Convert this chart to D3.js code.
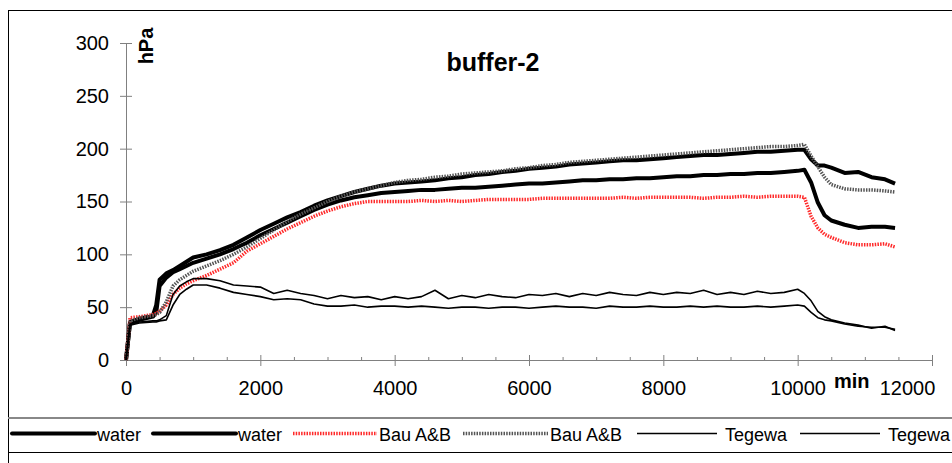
<!DOCTYPE html>
<html>
<head>
<meta charset="utf-8">
<script src="https://cdn.jsdelivr.net/npm/d3@7"></script>
<style>
  body { margin: 0; background: #fff; }
  svg { display: block; font-family: "Liberation Sans", Arial, sans-serif; }
</style>
</head>
<body>
<svg id="canvas"></svg>
<script>
// time axis (min) shared by all series
const times = [0, 60, 200, 400, 450, 500, 600, 700, 800, 900, 1000,
  1200, 1400, 1600, 1800, 2000, 2200, 2400, 2600, 2800, 3000,
  3200, 3400, 3600, 3800, 4000, 4200, 4400, 4600, 4800, 5000,
  5200, 5400, 5600, 5800, 6000, 6200, 6400, 6600, 6800, 7000,
  7200, 7400, 7600, 7800, 8000, 8200, 8400, 8600, 8800, 9000,
  9200, 9400, 9600, 9800, 10000, 10100, 10200, 10300, 10400, 10500,
  10700, 10900, 11100, 11300, 11450];

const water1 = [0, 36, 39, 42, 52, 76, 82, 85, 89, 93, 97,
  100, 104, 109, 116, 123, 129, 135, 140, 146, 151,
  155, 159, 162, 165, 167, 168, 169, 170, 172, 173,
  175, 176, 178, 179, 181, 182, 183, 185, 186, 187,
  188, 189, 189, 190, 191, 192, 193, 194, 194, 195,
  196, 197, 197, 198, 199, 199, 190, 184, 184, 182,
  177, 178, 173, 171, 167];

const water2 = [0, 35, 38, 41, 45, 70, 78, 83, 86, 89, 92,
  96, 100, 105, 111, 118, 124, 130, 136, 142, 147,
  151, 154, 156, 158, 159, 160, 161, 161, 162, 163,
  163, 164, 165, 166, 167, 167, 168, 169, 170, 170,
  171, 171, 172, 172, 173, 174, 174, 175, 175, 176,
  176, 177, 177, 178, 179, 180, 168, 149, 137, 132,
  128, 125, 126, 126, 125];

const bau1 = [0, 40, 41, 43, 44, 46, 52, 62, 68, 72, 75,
  80, 86, 92, 103, 110, 117, 124, 130, 136, 141,
  145, 148, 150, 150, 150, 150, 151, 150, 151, 150,
  151, 152, 152, 152, 152, 153, 153, 153, 153, 153,
  153, 154, 153, 154, 154, 154, 154, 153, 154, 154,
  155, 154, 155, 155, 155, 154, 136, 125, 119, 116,
  111, 109, 109, 110, 107];

const bau2 = [0, 37, 40, 42, 43, 45, 55, 70, 76, 80, 84,
  89, 94, 100, 107, 115, 123, 131, 138, 144, 150,
  155, 159, 162, 165, 168, 170, 171, 173, 174, 176,
  177, 178, 179, 181, 182, 184, 185, 187, 188, 189,
  190, 191, 192, 193, 194, 195, 196, 197, 198, 199,
  200, 201, 202, 202, 203, 204, 193, 183, 173, 166,
  162, 161, 161, 160, 159];

const tegewa1 = [0, 34, 36, 37, 37, 38, 42, 62, 70, 74, 77,
  77, 75, 71, 70, 69, 63, 66, 63, 61, 58,
  61, 59, 60, 57, 60, 58, 60, 66, 58, 61,
  59, 62, 60, 59, 62, 61, 63, 60, 63, 61,
  64, 62, 61, 64, 62, 64, 63, 66, 62, 64,
  62, 65, 63, 64, 67, 63, 56, 46, 41, 38,
  35, 33, 30, 32, 28];

const tegewa2 = [0, 33, 35, 36, 36, 37, 38, 52, 62, 67, 71,
  71, 68, 64, 62, 60, 57, 58, 57, 53, 51,
  51, 52, 50, 51, 51, 50, 51, 50, 49, 50,
  50, 49, 50, 50, 49, 50, 51, 50, 50, 49,
  51, 50, 50, 51, 50, 50, 51, 50, 51, 50,
  50, 51, 50, 51, 52, 51, 45, 40, 38, 37,
  34, 32, 31, 31, 29];

const xTicks = [0, 2000, 4000, 6000, 8000, 10000, 12000];
const yTicks = [0, 50, 100, 150, 200, 250, 300];
const legendNames = ["water", "water", "Bau A&B", "Bau A&B", "Tegewa", "Tegewa"];

const width = 952;
const height = 463;

const svg = d3.select("#canvas")
    .attr("width", width)
    .attr("height", height);

// outer frame
svg.append("rect")
    .attr("x", 8.5).attr("y", 10.5)
    .attr("width", 1000).attr("height", 1000)
    .attr("fill", "none")
    .attr("stroke", "#000")
    .attr("stroke-width", 1);

const xScale = d3.scaleLinear().domain([0, 12000]).range([126, 932]);
const yScale = d3.scaleLinear().domain([0, 300]).range([360, 43]);

const styles = [
    { color: "#000", w: 4, dash: null },
    { color: "#000", w: 4, dash: null },
    { color: "#ff2a2a", w: 3.5, dash: "1.5,1.2" },
    { color: "#555", w: 3.5, dash: "1.5,1.2" },
    { color: "#000", w: 1.6, dash: null },
    { color: "#000", w: 1.6, dash: null }
];
const seriesData = [water1, water2, bau1, bau2, tegewa1, tegewa2];

// axes
const xAxis = d3.axisBottom(xScale).tickValues(xTicks).tickSize(6).tickFormat(d3.format("d"));
const yAxis = d3.axisLeft(yScale).tickValues(yTicks).tickSize(6);

const gx = svg.append("g")
    .attr("transform", `translate(0, ${yScale(0)})`)
    .call(xAxis);
gx.select(".domain").attr("stroke", "#808080").attr("d", `M126,0.5H932`);
gx.selectAll(".tick line").attr("stroke", "#808080").attr("y1", -5);
gx.selectAll(".tick text")
    .attr("y", 35).attr("dy", 0)
    .attr("font-size", 20).attr("fill", "#000")
    .attr("font-family", "Liberation Sans, Arial, sans-serif");
gx.selectAll(".tick text").filter(d => d === 12000)
    .attr("dx", -25);

// minor x ticks
svg.append("g").selectAll("line")
    .data(d3.range(500, 12000, 500).filter(v => v % 2000 !== 0))
    .enter().append("line")
    .attr("x1", d => xScale(d) + 0.5).attr("x2", d => xScale(d) + 0.5)
    .attr("y1", yScale(0) - 3).attr("y2", yScale(0))
    .attr("stroke", "#808080");

const gy = svg.append("g")
    .attr("transform", `translate(${xScale(0)}, 0)`)
    .call(yAxis);
gy.select(".domain").attr("stroke", "#808080").attr("d", `M0.5,${yScale(300)}V${yScale(0)}`);
gy.selectAll(".tick line").attr("stroke", "#808080").attr("x2", 6).attr("x1", -6);
gy.selectAll(".tick text")
    .attr("x", -17)
    .attr("font-size", 20).attr("fill", "#000")
    .attr("font-family", "Liberation Sans, Arial, sans-serif");

// lines
const line = d3.line()
    .x((d, i) => xScale(times[i]))
    .y(d => yScale(d));

svg.append("g").selectAll("path")
    .data(seriesData)
    .enter().append("path")
    .attr("d", d => line(d))
    .attr("fill", "none")
    .attr("stroke", (d, i) => styles[i].color)
    .attr("stroke-width", (d, i) => styles[i].w)
    .attr("stroke-dasharray", (d, i) => styles[i].dash)
    .attr("stroke-linejoin", "round");

// titles
svg.append("text")
    .attr("x", 493).attr("y", 71)
    .attr("text-anchor", "middle")
    .attr("font-size", 25).attr("font-weight", "bold")
    .text("buffer-2");

svg.append("text")
    .attr("transform", "translate(153, 46) rotate(-90)")
    .attr("text-anchor", "middle")
    .attr("font-size", 20).attr("font-weight", "bold")
    .text("hPa");

svg.append("text")
    .attr("x", 834).attr("y", 388)
    .attr("font-size", 20).attr("font-weight", "bold")
    .text("min");

// legend box
svg.append("line")
    .attr("x1", 8).attr("x2", width)
    .attr("y1", 418).attr("y2", 418)
    .attr("stroke", "#888").attr("stroke-width", 2);
svg.append("line")
    .attr("x1", 8).attr("x2", width)
    .attr("y1", 452.5).attr("y2", 452.5)
    .attr("stroke", "#000").attr("stroke-width", 1);

const legendX = [12, 153, 293, 463, 637, 800];
const legendLen = [83, 83, 84, 85, 80, 80];

const leg = svg.append("g").selectAll("g")
    .data(legendNames)
    .enter().append("g");

leg.append("line")
    .attr("x1", (d, i) => legendX[i])
    .attr("x2", (d, i) => legendX[i] + legendLen[i])
    .attr("y1", 433.5).attr("y2", 433.5)
    .attr("stroke", (d, i) => styles[i].color)
    .attr("stroke-width", (d, i) => styles[i].w)
    .attr("stroke-dasharray", (d, i) => styles[i].dash)
    .attr("stroke-linecap", (d, i) => i < 2 ? "round" : "butt");

leg.append("text")
    .attr("x", (d, i) => legendX[i] + legendLen[i] + (i >= 4 ? 8 : 2))
    .attr("y", 441)
    .attr("font-size", 18)
    .text(d => d);
</script>
</body>
</html>
